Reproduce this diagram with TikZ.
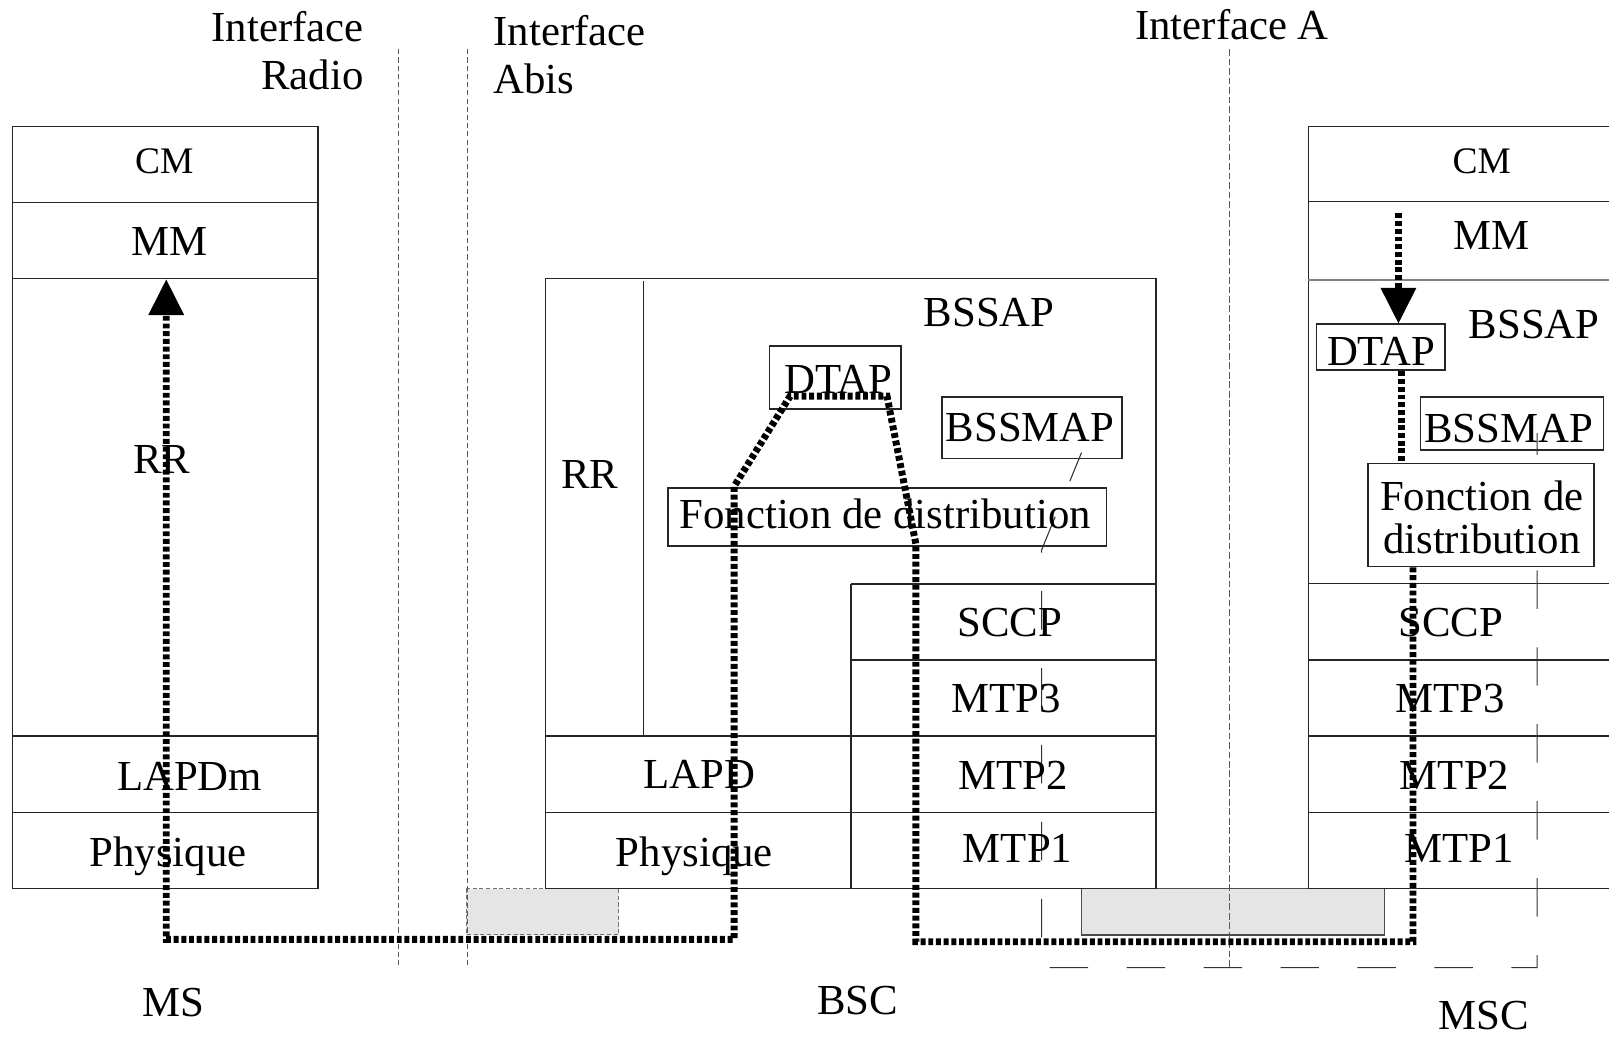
\documentclass[tikz,border=0pt]{standalone}
\usepackage{fontspec}
\setmainfont{Liberation Serif}
\usetikzlibrary{arrows.meta}
\begin{document}
\begin{tikzpicture}[x=0.02cm,y=-0.02cm,
  box/.style={draw=black!85, line width=0.75pt},
  lbl/.style={inner sep=0pt, anchor=base, font=\fontsize{23.73pt}{26.8pt}\selectfont},
  smlbl/.style={inner sep=0pt, anchor=base, font=\fontsize{20.8pt}{24pt}\selectfont},
  iface/.style={draw=black!65, line width=0.5pt, dash pattern=on 0.1cm off 0.06cm},
  flow/.style={line width=0.135cm, dash pattern=on 0.096cm off 0.054cm},
  route/.style={draw=black!80, line width=0.6pt, dash pattern=on 0.75cm off 0.75cm, dash phase=0.146cm},
  tip/.style={-{Triangle[length=0.7cm,width=0.66cm]}},
  shade/.style={fill=black!10}
]
\useasboundingbox (0,0) rectangle (1568,1012);

% grey transmission boxes
\draw[shade, draw=black!55, line width=0.5pt, dash pattern=on 0.08cm off 0.05cm] (454.6,866) rectangle (603,911);
\draw[shade, draw=black!70, line width=0.75pt] (1054,866) rectangle (1349,911);

% interface lines
\coordinate (ir1) at (388.5,48); \coordinate (ir2) at (388.5,942);
\coordinate (ia1) at (455.5,48); \coordinate (ia2) at (455.5,942);
\coordinate (iA1) at (1198,48);  \coordinate (iA2) at (1198,942);
\draw[iface] (ir1) -- (ir2);
\draw[iface] (ia1) -- (ia2);
\draw[iface, dash pattern=on 0.13cm off 0.055cm] (iA1) -- (iA2);

% interface labels
\node[lbl, anchor=base east] (ifr) at (354.6,40.6) {\begin{tabular}[t]{@{}r@{}}Interface\\Radio\end{tabular}};
\node[lbl, anchor=base west] (ifa) at (480.6,44) {\begin{tabular}[t]{@{}l@{}}Interface\\Abis\end{tabular}};
\node[lbl, anchor=base west] (ifA) at (1106,38.3) {Interface A};

% MS stack
\draw[box] (12.3,123.5) rectangle (310,865.7);
\foreach \yy in {197.2,271.2,717.3,792} \draw[box] (12.3,\yy) -- (310,\yy);

% BSC stack
\draw[box] (531.5,271.3) rectangle (1126.6,865.7);
\draw[box] (627.4,273.5) -- (627.4,717.3);
\draw[box] (531.5,717.3) -- (1126.6,717.3);
\draw[box] (531.5,792) -- (1126.6,792);
\draw[box] (829.4,569) -- (1126.6,569);
\draw[box] (829.4,643) -- (1126.6,643);
\draw[box] (829.4,569) -- (829.4,865.7);
\draw[box] (750,337) rectangle (878,398.6);
\draw[box] (918,387) rectangle (1093.5,446.6);
\draw[box] (651,475.6) rectangle (1078,532);

% MSC stack
\draw[box] (1568,123) -- (1275,123) -- (1275,865.7) -- (1568,865.7);
\foreach \yy in {196.5,568.5,643,717.3,791.7} \draw[box] (1275,\yy) -- (1568,\yy);
\draw[draw=black!50, line width=1.6pt] (1275,272.9) -- (1568,272.9);
\draw[box] (1384.5,387) rectangle (1562.5,438.6);

% long dashed route (SS7 side)
\coordinate (d0) at (1054,441);
\coordinate (d1) at (1015,536);
\coordinate (d2) at (1015,943);
\coordinate (d3) at (1498,943);
\coordinate (d4) at (1498,422);
\draw[route] (d0) -- (d1) -- (d2) -- (d3) -- (d4);

% MSC white boxes
\draw[box, fill=white] (1283,315.8) rectangle (1408,360.6);
\draw[box, fill=white] (1333,451.5) rectangle (1553.5,552.3);

% MS labels
\node[smlbl] (msCM) at (160,169) {CM};
\node[lbl] (msMM) at (165,248.5) {MM};
\node[lbl] (msRR) at (157.6,461.3) {RR};
\node[lbl] (msLAPDm) at (184.7,770) {LAPDm};
\node[lbl] (msPhy) at (163.7,844.6) {Physique};
\node[lbl] (msName) at (169,990.8) {MS};

% BSC labels
\node[lbl] (bRR) at (574.6,476) {RR};
\node[lbl] (bBSSAP) at (964,318.5) {BSSAP};
\node[lbl] (bDTAP) at (817,383) {DTAP};
\node[lbl] (bBSSMAP) at (1004,430) {BSSMAP};
\node[lbl] (bFonc) at (862.6,515) {Fonction de distribution};
\node[lbl] (bSCCP) at (984,620) {SCCP};
\node[lbl] (bMTP3) at (980.5,694.5) {MTP3};
\node[lbl] (bMTP2) at (987,769) {MTP2};
\node[lbl] (bMTP1) at (991.6,840.7) {MTP1};
\node[lbl] (bLAPD) at (681.7,768.3) {LAPD};
\node[lbl] (bPhy) at (676.7,844.6) {Physique};
\node[lbl] (bName) at (836,989) {BSC};

% MSC labels
\node[smlbl] (mCM) at (1444,169) {CM};
\node[lbl] (mMM) at (1453.6,243.6) {MM};
\node[lbl] (mBSSAP) at (1495,329.7) {BSSAP};
\node[lbl] (mDTAP) at (1346,355.7) {DTAP};
\node[lbl] (mBSSMAP) at (1470,431.4) {BSSMAP};
\node[lbl, font=\fontsize{23.73pt}{24.07pt}\selectfont] (mFonc) at (1444,497) {\begin{tabular}[t]{@{}c@{}}Fonction de\\distribution\end{tabular}};
\node[lbl] (mSCCP) at (1414,620) {SCCP};
\node[lbl] (mMTP3) at (1413,694.5) {MTP3};
\node[lbl] (mMTP2) at (1417.5,769) {MTP2};
\node[lbl] (mMTP1) at (1422,840.7) {MTP1};
\node[lbl] (mName) at (1446,1003.5) {MSC};

% thick dotted message path
\coordinate (a0) at (1362.8,208);
\coordinate (a1) at (1362.8,315.5);
\coordinate (b0) at (1365.4,362);
\coordinate (b1) at (1365.4,450);
\coordinate (m0) at (1377,553);
\coordinate (m1) at (1377,917.7);
\coordinate (m2) at (892.5,917.7);
\coordinate (m3) at (892.5,530);
\coordinate (m4) at (864.4,386);
\coordinate (m5) at (770,386);
\coordinate (m6) at (715.4,474);
\coordinate (m7) at (715.4,915.4);
\coordinate (m8) at (162,915.4);
\coordinate (m9) at (162,272);
\draw[flow, tip] (a0) -- (a1);
\draw[flow] (b0) -- (b1);
\draw[flow, tip] (m0) -- (m1) -- (m2) -- (m3) -- (m4) -- (m5) -- (m6) -- (m7) -- (m8) -- (m9);
\end{tikzpicture}
\end{document}
